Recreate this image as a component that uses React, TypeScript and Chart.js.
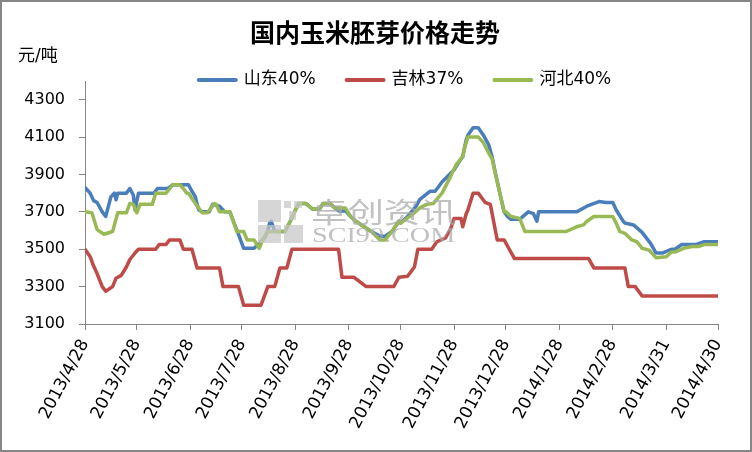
import { useEffect, useRef } from 'react';
import { Chart, registerables } from 'chart.js';

Chart.register(...registerables);

const chartTitle = '国内玉米胚芽价格走势';
const unitLabel = '元/吨';
const seriesNames = ['山东40%', '吉林37%', '河北40%'];
const seriesColors = ['#4A7EBB', '#BE4B48', '#98B954'];

// x = days since 2013/4/28
const tickDays = [0, 30, 61, 91, 122, 153, 183, 214, 244, 275, 306, 337, 367];
const tickLabels = [
  '2013/4/28', '2013/5/28', '2013/6/28', '2013/7/28', '2013/8/28', '2013/9/28',
  '2013/10/28', '2013/11/28', '2013/12/28', '2014/1/28', '2014/2/28', '2014/3/31', '2014/4/30',
];
const yTicks = [3100, 3300, 3500, 3700, 3900, 4100, 4300];

const shandongDays = [
  0, 3, 5, 7, 10, 12, 15, 17, 18, 19, 24, 26, 28, 29, 31, 40, 42, 48, 51, 60,
  62, 64, 65, 66, 68, 72, 74, 78, 81, 84, 86, 89, 92, 98, 102, 104, 106, 107, 108, 110,
  116, 119, 122, 124, 128, 132, 136, 138, 142, 145, 147, 151, 154, 157, 166, 171, 174, 178, 182, 183,
  187, 192, 194, 200, 203, 207, 214, 217, 219, 221, 222, 225, 228, 231, 234, 236, 238, 241, 243, 245,
  247, 252, 257, 260, 262, 263, 285, 291, 298, 302, 306, 308, 312, 313, 318, 323, 328, 331, 335, 340,
  342, 346, 354, 359, 367,
];
const shandongPrices = [
  3830, 3800, 3760, 3750, 3700, 3675, 3780, 3800, 3765, 3800, 3800, 3825, 3790, 3710, 3800, 3800, 3825, 3825, 3845, 3845,
  3810, 3780, 3740, 3710, 3700, 3700, 3740, 3730, 3700, 3700, 3650, 3580, 3505, 3505, 3540, 3560, 3600, 3640, 3650, 3595,
  3595, 3650, 3710, 3745, 3745, 3715, 3715, 3745, 3745, 3720, 3705, 3705, 3675, 3650, 3595, 3570, 3570, 3595, 3650, 3640,
  3675, 3730, 3765, 3810, 3810, 3860, 3925, 3970, 3995, 4085, 4110, 4150, 4150, 4110, 4060, 3995, 3905, 3780, 3700, 3675,
  3660, 3660, 3700, 3690, 3650, 3700, 3700, 3730, 3755, 3750, 3750, 3710, 3650, 3640, 3630, 3590, 3530, 3480, 3480, 3500,
  3500, 3525, 3525, 3540, 3540,
];

const jilinDays = [
  0, 3, 5, 7, 10, 12, 16, 18, 21, 24, 26, 29, 31, 41, 43, 47, 49, 55, 57, 62,
  65, 78, 80, 89, 92, 102, 106, 110, 113, 117, 120, 147, 149, 156, 163, 179, 182, 187, 191, 193,
  201, 204, 209, 212, 214, 218, 219, 221, 222, 225, 228, 232, 235, 239, 243, 246, 249, 292, 295, 313,
  315, 319, 323, 367,
];
const jilinPrices = [
  3500, 3460, 3410, 3370, 3300, 3275, 3300, 3345, 3360, 3405, 3445, 3480, 3500, 3500, 3525, 3525, 3550, 3550, 3500, 3500,
  3400, 3400, 3300, 3300, 3200, 3200, 3300, 3300, 3400, 3400, 3500, 3500, 3350, 3350, 3300, 3300, 3350, 3355, 3405, 3500,
  3500, 3540, 3560, 3610, 3665, 3665, 3620, 3690, 3710, 3800, 3800, 3750, 3740, 3550, 3550, 3500, 3450, 3450, 3400, 3400,
  3300, 3300, 3250, 3250,
];

const hebeiDays = [
  0, 4, 7, 11, 16, 19, 24, 26, 28, 30, 32, 39, 41, 47, 51, 55, 57, 59, 60, 64,
  68, 71, 75, 76, 78, 84, 86, 88, 92, 94, 98, 101, 103, 106, 116, 119, 122, 124, 128, 132,
  136, 138, 142, 145, 151, 154, 157, 166, 171, 174, 178, 182, 183, 191, 194, 198, 202, 207, 212, 215,
  219, 220, 222, 228, 231, 234, 236, 238, 241, 243, 244, 247, 252, 255, 279, 285, 289, 291, 295, 306,
  308, 310, 313, 317, 320, 323, 327, 331, 337, 340, 342, 347, 352, 356, 359, 367,
];
const hebeiPrices = [
  3700, 3695, 3605, 3580, 3595, 3695, 3695, 3745, 3740, 3695, 3740, 3740, 3800, 3800, 3845, 3845, 3825, 3800, 3800, 3745,
  3695, 3695, 3745, 3740, 3700, 3700, 3650, 3595, 3595, 3550, 3550, 3505, 3550, 3595, 3595, 3650, 3710, 3745, 3745, 3715,
  3715, 3745, 3745, 3720, 3720, 3675, 3650, 3595, 3550, 3550, 3595, 3650, 3640, 3695, 3720, 3740, 3745, 3800, 3890, 3950,
  3995, 4040, 4100, 4100, 4070, 4015, 3985, 3900, 3780, 3700, 3700, 3675, 3665, 3595, 3595, 3620, 3630, 3650, 3675, 3675,
  3640, 3595, 3585, 3550, 3540, 3505, 3495, 3455, 3460, 3485, 3485, 3505, 3515, 3515, 3525, 3525,
];

const toPoints = (days: number[], prices: number[]) => days.map((d, i) => ({ x: d, y: prices[i] }));

const latinFont = "'DejaVu Sans', 'Noto Sans CJK SC', sans-serif";
const cjkFont = "'Noto Sans CJK SC', 'DejaVu Sans', sans-serif";

const decorPlugin = {
  id: 'decor',
  afterDatasetsDraw(chart: any) {
    const ctx = chart.ctx as CanvasRenderingContext2D;
    ctx.save();
    ctx.globalAlpha = 0.72;
    ctx.fillStyle = '#c6c6c6';
    // logo blocks
    ctx.fillRect(258, 200, 23, 22);
    ctx.fillRect(258, 225, 23, 18);
    ctx.fillRect(284, 225, 19, 18);
    ctx.fillRect(284, 201, 7, 7);
    ctx.fillRect(294, 201, 8, 7);
    ctx.fillRect(289, 211, 7, 9);
    ctx.fillStyle = '#a9a9a9';
    ctx.textBaseline = 'middle';
    ctx.textAlign = 'left';
    ctx.save();
    ctx.translate(311, 212);
    ctx.scale(1.3, 1);
    ctx.font = `28px ${cjkFont}`;
    ctx.fillText('卓创资讯', 0, 0);
    ctx.restore();
    ctx.save();
    ctx.translate(312, 236);
    ctx.scale(1.28, 1);
    ctx.font = "22px 'Liberation Serif', 'DejaVu Serif', serif";
    ctx.fillText('SCI99.COM', 0, 0);
    ctx.restore();
    ctx.restore();
  },
  afterDraw(chart: any) {
    const ctx = chart.ctx as CanvasRenderingContext2D;
    const area = chart.chartArea;
    ctx.save();
    // title
    ctx.fillStyle = '#000';
    ctx.textAlign = 'center';
    ctx.textBaseline = 'middle';
    ctx.font = `bold 25px ${cjkFont}`;
    ctx.fillText(chartTitle, chart.width / 2 - 1, 32);
    // unit label
    ctx.textAlign = 'left';
    ctx.font = `17px ${latinFont}`;
    ctx.fillText(unitLabel, area.left - 67, 57);
    // legend
    ctx.font = `17px ${latinFont}`;
    const lineLen = 41;
    const gap = 6;
    const itemGap = 29;
    const widths = seriesNames.map((n) => ctx.measureText(n).width);
    const total = widths.reduce((a, w) => a + lineLen + gap + w, 0) + itemGap * (seriesNames.length - 1);
    let x = 404 - total / 2;
    const ly = 80;
    seriesNames.forEach((name, i) => {
      ctx.strokeStyle = seriesColors[i];
      ctx.lineWidth = 4;
      ctx.lineCap = 'round';
      ctx.beginPath();
      ctx.moveTo(x + 2, ly);
      ctx.lineTo(x + lineLen - 2, ly);
      ctx.stroke();
      ctx.fillStyle = '#000';
      ctx.fillText(name, x + lineLen + gap, ly);
      x += lineLen + gap + widths[i] + itemGap;
    });
    // outer border
    ctx.strokeStyle = '#868686';
    ctx.lineWidth = 2;
    ctx.lineCap = 'butt';
    ctx.strokeRect(1, 1, chart.width - 2, chart.height - 2);
    ctx.restore();
  },
};

export default function App() {
  const ref = useRef<HTMLCanvasElement>(null);
  useEffect(() => {
    document.body.style.margin = '0';
    const mk = (label: string, color: string, days: number[], prices: number[], order: number) => ({
      label,
      data: toPoints(days, prices),
      borderColor: color,
      backgroundColor: color,
      borderWidth: 3.5,
      pointRadius: 0,
      tension: 0,
      borderCapStyle: 'round' as const,
      borderJoinStyle: 'round' as const,
      order,
    });
    const chart = new Chart(ref.current!, {
      type: 'line',
      data: {
        datasets: [
          mk(seriesNames[0], seriesColors[0], shandongDays, shandongPrices, 2),
          mk(seriesNames[1], seriesColors[1], jilinDays, jilinPrices, 1),
          mk(seriesNames[2], seriesColors[2], hebeiDays, hebeiPrices, 0),
        ],
      },
      options: {
        animation: false,
        responsive: true,
        maintainAspectRatio: false,
        layout: { padding: { top: 81, right: 34, left: 0, bottom: 0 } },
        plugins: { legend: { display: false }, title: { display: false }, tooltip: { enabled: false } },
        scales: {
          x: {
            type: 'linear',
            min: 0,
            max: 367,
            afterBuildTicks: (s: any) => {
              s.ticks = tickDays.map((v) => ({ value: v }));
            },
            afterFit: (s: any) => {
              s.height = 128;
            },
            ticks: {
              autoSkip: false,
              minRotation: 62,
              maxRotation: 62,
              padding: 6,
              color: '#000',
              font: { family: latinFont, size: 17 },
              callback: (v: any) => {
                const i = tickDays.indexOf(Number(v));
                return i >= 0 ? tickLabels[i] : '';
              },
            },
            grid: { drawOnChartArea: false, drawTicks: true, tickLength: 6, color: '#868686' },
            border: { color: '#868686', width: 1 },
          },
          y: {
            type: 'linear',
            min: 3100,
            max: 4400,
            afterBuildTicks: (s: any) => {
              s.ticks = yTicks.map((v) => ({ value: v }));
            },
            afterFit: (s: any) => {
              s.width = 85;
            },
            ticks: {
              padding: 14,
              color: '#000',
              font: { family: latinFont, size: 16 },
              callback: (v: any) => String(v),
            },
            grid: { drawOnChartArea: false, drawTicks: true, tickLength: 6, color: '#868686' },
            border: { color: '#868686', width: 1 },
          },
        },
      },
      plugins: [decorPlugin],
    });
    return () => chart.destroy();
  }, []);
  return (
    <div style={{ width: 752, height: 452, position: 'relative', background: '#fff' }}>
      <canvas ref={ref} />
    </div>
  );
}
